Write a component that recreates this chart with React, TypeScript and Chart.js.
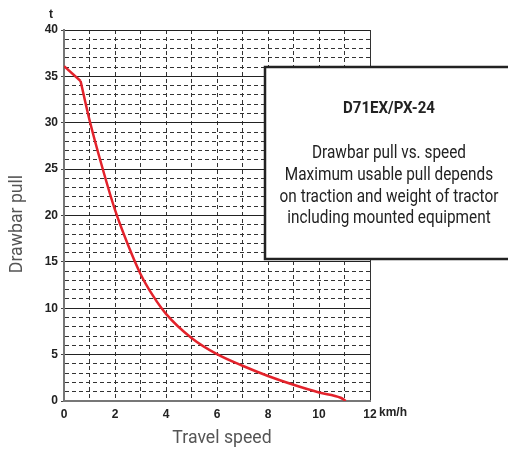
import React, { useEffect, useRef } from "react";
import { Chart, registerables } from "chart.js";

Chart.register(...registerables);

// Curve: initial straight segment, then the smooth drawbar-pull curve
const speedStart = [0, 0.65];
const pullStart = [36.1, 34.5];
const speedMain = [0.65, 1.0, 1.5, 2.0, 2.5, 3.0, 3.5, 4.0, 5.0, 6.0, 7.0, 8.0, 9.0, 10.0, 10.85, 11.05];
const pullMain = [34.5, 30.3, 25.2, 20.6, 16.9, 13.7, 11.3, 9.4, 6.8, 5.05, 3.8, 2.7, 1.75, 0.92, 0.35, 0];

const xTickValues = [0, 2, 4, 6, 8, 10, 12];
const yTickValues = [0, 5, 10, 15, 20, 25, 30, 35, 40];

const xTitle = "Travel speed";
const yTitle = "Drawbar pull";
const xUnit = "km/h";
const yUnit = "t";
const boxTitle = "D71EX/PX-24";
const boxLines = [
  "Drawbar pull vs. speed",
  "Maximum usable pull depends",
  "on traction and weight of tractor",
  "including mounted equipment",
];

const NARROW = 'Roboto, "Liberation Sans", sans-serif';
const TICKFONT = '"Liberation Sans", Arial, sans-serif';
const RED = "#e3222b";

function narrowText(
  ctx: CanvasRenderingContext2D,
  text: string,
  x: number,
  y: number,
  sx: number,
  rot = 0
) {
  ctx.save();
  ctx.translate(x, y);
  if (rot) ctx.rotate(rot);
  ctx.scale(sx, 1);
  ctx.fillText(text, 0, 0);
  ctx.restore();
}

const overlayPlugin = {
  id: "overlay",
  afterDraw(chart: any) {
    const ctx = chart.ctx as CanvasRenderingContext2D;
    ctx.save();
    // unit labels
    ctx.fillStyle = "#222";
    ctx.font = `bold 12px ${TICKFONT}`;
    ctx.textAlign = "center";
    ctx.textBaseline = "middle";
    ctx.fillText(yUnit, 51, 15);
    ctx.textAlign = "left";
    ctx.fillText(xUnit, 379, 413);

    // axis titles
    ctx.fillStyle = "#555";
    ctx.font = `19px ${NARROW}`;
    ctx.textAlign = "center";
    ctx.textBaseline = "middle";
    narrowText(ctx, xTitle, 222, 438, 0.93);
    narrowText(ctx, yTitle, 17, 224, 0.93, -Math.PI / 2);

    // info box
    ctx.fillStyle = "#fff";
    ctx.fillRect(265, 67, 260, 192);
    ctx.strokeStyle = "#222";
    ctx.lineWidth = 2.5;
    ctx.strokeRect(265, 67, 260, 192);

    ctx.fillStyle = "#222";
    ctx.textAlign = "center";
    ctx.textBaseline = "middle";
    ctx.font = `bold 16px ${NARROW}`;
    narrowText(ctx, boxTitle, 389, 109, 0.94);
    ctx.font = `18px ${NARROW}`;
    const ys = [153, 175, 197, 218];
    boxLines.forEach((t, i) => narrowText(ctx, t, 389, ys[i], 0.853));
    ctx.restore();
  },
};

export default function App() {
  const ref = useRef<HTMLCanvasElement | null>(null);

  useEffect(() => {
    if (!ref.current) return;
    const chart = new Chart(ref.current, {
      type: "line",
      data: {
        datasets: [
          {
            data: speedStart.map((x, i) => ({ x, y: pullStart[i] })),
            borderColor: RED,
            borderWidth: 2.5,
            pointRadius: 0,
            tension: 0,
          },
          {
            data: speedMain.map((x, i) => ({ x, y: pullMain[i] })),
            borderColor: RED,
            borderWidth: 2.5,
            pointRadius: 0,
            cubicInterpolationMode: "monotone",
          },
        ],
      },
      options: {
        animation: false,
        responsive: false,
        layout: { padding: { left: 0, top: 30, right: 138, bottom: 0 } },
        plugins: { legend: { display: false }, tooltip: { enabled: false } },
        scales: {
          x: {
            type: "linear",
            min: 0,
            max: 12,
            afterFit: (s: any) => {
              s.height = 49;
            },
            ticks: {
              stepSize: 1,
              autoSkip: false,
              maxRotation: 0,
              padding: 6,
              color: "#222",
              font: { family: TICKFONT, size: 12, weight: "bold" },
              callback: (v: any) => (xTickValues.includes(Number(v)) ? String(v) : ""),
            },
            grid: {
              color: "#333",
              lineWidth: 1,
              drawTicks: false,
            },
            border: {
              display: true,
              color: "#777",
              width: 2,
              dash: (c: any) =>
                c.tick && c.tick.value !== 0 && c.tick.value !== 12 ? [4, 3] : [],
            },
          },
          y: {
            type: "linear",
            min: 0,
            max: 40,
            afterFit: (s: any) => {
              s.width = 64;
            },
            ticks: {
              stepSize: 1,
              autoSkip: false,
              padding: 3,
              color: "#222",
              font: { family: TICKFONT, size: 12, weight: "bold" },
              callback: (v: any) => (yTickValues.includes(Number(v)) ? String(v) : ""),
            },
            grid: {
              color: (c: any) => (c.tick && c.tick.value % 5 === 0 ? "#222" : "#333"),
              lineWidth: 1,
              tickLength: 3,
              tickColor: (c: any) =>
                c.tick && c.tick.value % 5 === 0 ? "#444" : "rgba(0,0,0,0)",
            },
            border: {
              display: true,
              color: "#777",
              width: 2,
              dash: (c: any) => (c.tick && c.tick.value % 5 !== 0 ? [4, 3] : []),
            },
          },
        },
      },
      plugins: [overlayPlugin],
    } as any);
    return () => chart.destroy();
  }, []);

  return (
    <div style={{ position: "fixed", left: 0, top: 0, width: 508, height: 450, background: "#fff" }}>
      <canvas ref={ref} width={508} height={450} />
    </div>
  );
}
